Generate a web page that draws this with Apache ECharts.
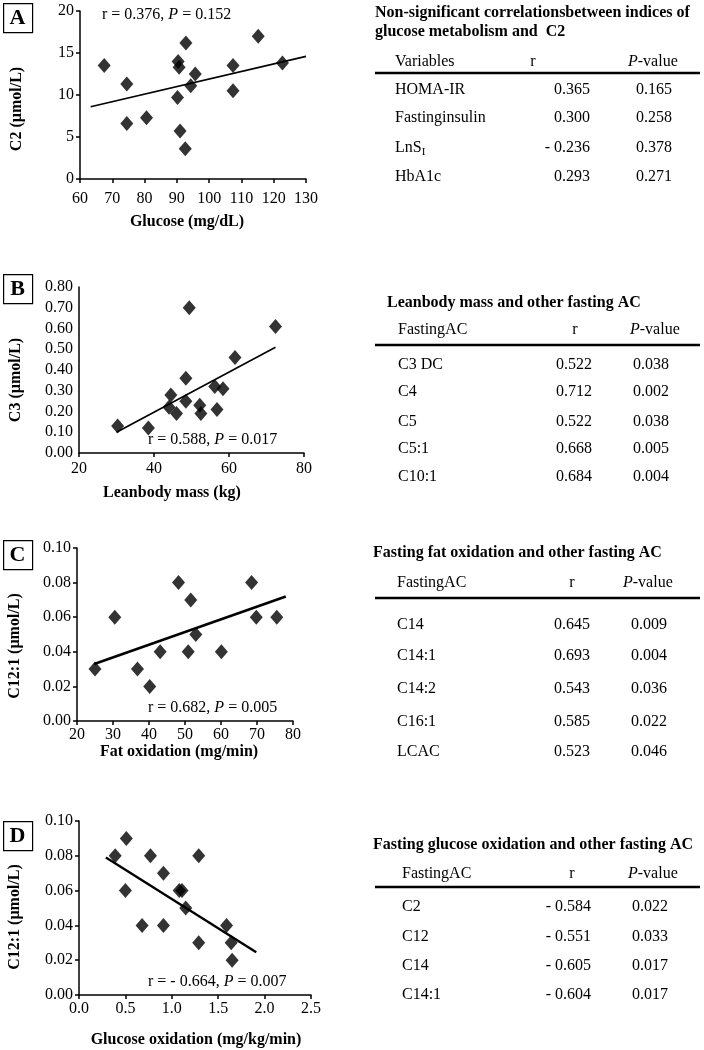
<!DOCTYPE html>
<html><head><meta charset="utf-8">
<script src="https://cdn.jsdelivr.net/npm/echarts@6/dist/echarts.min.js"></script>
<style>html,body{margin:0;padding:0;background:#fff}#c{width:704px;height:1050px}</style>
</head><body><div id="c"></div>
<script>
// ---- Panel A: Glucose vs C2 ----
const glucoseA = [67.5,74.5,74.5,80.6,90.4,90.7,90.2,91.0,92.6,92.8,95.7,94.3,107.4,107.4,115.2,122.7];
const c2A      = [13.5,11.3,6.6,7.3,14.0,13.3,9.7,5.7,3.6,16.2,12.5,11.1,13.5,10.5,17.0,13.8];
const fitA     = [[63.3,8.6],[130,14.6]];
// ---- Panel B: Lean body mass vs C3 ----
const leanB = [30.3,38.5,44.0,44.5,46.0,48.5,48.5,49.4,52.2,52.5,56.2,56.8,58.4,61.6,72.4];
const c3B   = [0.13,0.12,0.22,0.28,0.19,0.36,0.25,0.70,0.23,0.19,0.32,0.21,0.31,0.46,0.61];
const fitB  = [[30.0,0.10],[72.4,0.51]];
// ---- Panel C: Fat oxidation vs C12:1 ----
const fatC  = [25.0,30.5,36.8,40.2,43.1,48.2,50.9,51.6,53.0,60.1,68.5,69.8,75.5];
const c121C = [0.03,0.06,0.03,0.02,0.04,0.08,0.04,0.07,0.05,0.04,0.08,0.06,0.06];
const fitC  = [[24.8,0.033],[78.0,0.072]];
// ---- Panel D: Glucose oxidation vs C12:1 ----
const gluoxD = [0.39,0.51,0.50,0.68,0.77,0.91,0.91,1.08,1.11,1.15,1.29,1.29,1.59,1.64,1.65];
const c121D  = [0.08,0.09,0.06,0.04,0.08,0.07,0.04,0.06,0.06,0.05,0.08,0.03,0.04,0.03,0.02];
const fitD   = [[0.29,0.079],[1.91,0.0246]];

// axis tick settings
const xTicksA = {min:60,max:130,interval:10};
const yTicksA = {min:0,max:20,interval:5};
const xTicksB = {min:20,max:80,interval:20};
const yTicksB = {min:0,max:0.8,interval:0.1};
const xTicksC = {min:20,max:80,interval:10};
const yTicksC = {min:0,max:0.1,interval:0.02};
const xTicksD = {min:0,max:2.5,interval:0.5};
const yTicksD = {min:0,max:0.1,interval:0.02};

// labels
const panelLetters = ['A','B','C','D'];
const xNames = ['Glucose (mg/dL)','Leanbody mass (kg)','Fat oxidation (mg/min)','Glucose oxidation (mg/kg/min)'];
const yNames = ['C2 (\u00b5mol/L)','C3 (\u00b5mol/L)','C12:1 (\u00b5mol/L)','C12:1 (\u00b5mol/L)'];
const statR = ['0.376','0.588','0.682','- 0.664'];
const statP = ['0.152','0.017','0.005','0.007'];

// tables
const tableTitles = [
  ['Non-significant correlationsbetween indices of','glucose metabolism and  C2'],
  ['Leanbody mass and other fasting AC'],
  ['Fasting fat oxidation and other fasting AC'],
  ['Fasting glucose oxidation and other fasting AC']
];
const tableFirstHeader = ['Variables','FastingAC','FastingAC','FastingAC'];
const tableNames = [
  ['HOMA-IR','Fastinginsulin','LnS_I','HbA1c'],
  ['C3 DC','C4','C5','C5:1','C10:1'],
  ['C14','C14:1','C14:2','C16:1','LCAC'],
  ['C2','C12','C14','C14:1']
];
const tableR = [
  ['0.365','0.300','- 0.236','0.293'],
  ['0.522','0.712','0.522','0.668','0.684'],
  ['0.645','0.693','0.543','0.585','0.523'],
  ['- 0.584','- 0.551','- 0.605','- 0.604']
];
const tableP = [
  ['0.165','0.258','0.378','0.271'],
  ['0.038','0.002','0.038','0.005','0.004'],
  ['0.009','0.004','0.036','0.022','0.046'],
  ['0.022','0.033','0.017','0.017']
];

const FONT = '"Liberation Serif","DejaVu Serif",serif';
const chart = echarts.init(document.getElementById('c'), null, {renderer:'canvas'});

// layout
const grids = [
  {left:80, top:11, width:226, height:168},
  {left:79, top:287, width:225, height:166},
  {left:77, top:548, width:216, height:173},
  {left:79, top:821, width:232, height:174}
];
const xT = [xTicksA,xTicksB,xTicksC,xTicksD];
const yT = [yTicksA,yTicksB,yTicksC,yTicksD];
const xFmt = [v=>String(v), v=>String(v), v=>String(v), v=>v.toFixed(1)];
const yFmt = [v=>String(v), v=>v.toFixed(2), v=>v.toFixed(2), v=>v.toFixed(2)];
const xMargin = [12,8,6,6];
const yTickShow = [true,false,true,true];

const xAxes = grids.map((g,i)=>({
  gridIndex:i, type:'value', min:xT[i].min, max:xT[i].max, interval:xT[i].interval,
  axisLine:{show:true,onZero:false,lineStyle:{color:'#000',width:1.5}},
  axisTick:{show:true,length:4,lineStyle:{color:'#000',width:1.5}},
  splitLine:{show:false},
  axisLabel:{color:'#000',fontFamily:FONT,fontSize:16,margin:xMargin[i],formatter:xFmt[i],showMaxLabel:true}
}));
const yAxes = grids.map((g,i)=>({
  gridIndex:i, type:'value', min:yT[i].min, max:yT[i].max, interval:yT[i].interval,
  axisLine:{show:true,onZero:false,lineStyle:{color:'#000',width:1.5}},
  axisTick:{show:yTickShow[i],length:4,lineStyle:{color:'#000',width:1.5}},
  splitLine:{show:false},
  axisLabel:{color:'#000',fontFamily:FONT,fontSize:16,margin:6,formatter:yFmt[i]}
}));

const scatterData = [
  glucoseA.map((x,k)=>[x,c2A[k]]),
  leanB.map((x,k)=>[x,c3B[k]]),
  fatC.map((x,k)=>[x,c121C[k]]),
  gluoxD.map((x,k)=>[x,c121D[k]])
];
const fits = [fitA,fitB,fitC,fitD];
const fitWidth = [1.6,1.6,2.6,2.4];

const series = [];
for (let i=0;i<4;i++){
  series.push({type:'line',xAxisIndex:i,yAxisIndex:i,data:fits[i],showSymbol:false,
    lineStyle:{color:'#000',width:fitWidth[i]},silent:true,z:2});
  series.push({type:'scatter',xAxisIndex:i,yAxisIndex:i,data:scatterData[i],symbol:'diamond',
    symbolSize:[13,15],itemStyle:{color:'#000'},silent:true,z:3});
}

// graphics
const graphic = [];
const boxPos = [[3,3],[3,274],[3,540],[3,821]];
panelLetters.forEach((L,i)=>{
  graphic.push({type:'rect',left:boxPos[i][0],top:boxPos[i][1],shape:{width:29,height:29},
    style:{fill:'#fff',stroke:'#000',lineWidth:1.2}});
  graphic.push({type:'text',x:boxPos[i][0]+14.5,y:boxPos[i][1]+15,
    style:{text:L,font:'bold 22px '+FONT,fill:'#000',textAlign:'center',textVerticalAlign:'middle'}});
});
const xNamePos = [[187,222],[172,493],[179,752],[196,1040]];
const yNamePos = [[17,109],[16,380],[15,646],[15,917]];
for (let i=0;i<4;i++){
  graphic.push({type:'text',x:xNamePos[i][0],y:xNamePos[i][1],
    style:{text:xNames[i],font:'bold 16px '+FONT,fill:'#000',textAlign:'center',textVerticalAlign:'middle'}});
  graphic.push({type:'text',x:yNamePos[i][0],y:yNamePos[i][1],rotation:Math.PI/2,
    style:{text:yNames[i],font:'bold 16px '+FONT,fill:'#000',textAlign:'center',textVerticalAlign:'middle'}});
}
const statPos = [[102,15],[148,440],[148,708],[148,982]];
for (let i=0;i<4;i++){
  graphic.push({type:'text',x:statPos[i][0],y:statPos[i][1],
    style:{text:'r = '+statR[i]+', {i|P} = '+statP[i],font:'16px '+FONT,fill:'#000',
      textAlign:'left',textVerticalAlign:'middle',
      rich:{i:{fontStyle:'italic',fontFamily:FONT,fontSize:16}}}});
}

// tables
const tLayout = [
  {titleX:375,titleY:[13,32],headY:62,ruleY:73,rowsY:[90,118,148,177],labX:395,rX:590,pX:636,pHX:628,rHX:533},
  {titleX:387,titleY:[303],headY:330,ruleY:345,rowsY:[365,392,422,449,477],labX:398,rX:592,pX:633,pHX:630,rHX:575},
  {titleX:373,titleY:[553],headY:583,ruleY:598,rowsY:[625,656,689,722,752],labX:397,rX:590,pX:631,pHX:623,rHX:572},
  {titleX:373,titleY:[845],headY:874,ruleY:887,rowsY:[907,937,966,995],labX:402,rX:591,pX:632,pHX:628,rHX:572}
];
const TF = '16px '+FONT;
tLayout.forEach((t,i)=>{
  tableTitles[i].forEach((line,j)=>{
    graphic.push({type:'text',x:t.titleX,y:t.titleY[j],
      style:{text:line,font:'bold 16px '+FONT,fill:'#000',textAlign:'left',textVerticalAlign:'middle'}});
  });
  graphic.push({type:'text',x:t.labX,y:t.headY,style:{text:tableFirstHeader[i],font:TF,fill:'#000',textVerticalAlign:'middle'}});
  graphic.push({type:'text',x:t.rHX,y:t.headY,style:{text:'r',font:TF,fill:'#000',textAlign:'center',textVerticalAlign:'middle'}});
  graphic.push({type:'text',x:t.pHX,y:t.headY,style:{text:'{i|P}-value',font:TF,fill:'#000',textVerticalAlign:'middle',
    rich:{i:{fontStyle:'italic',fontFamily:FONT,fontSize:16}}}});
  graphic.push({type:'line',shape:{x1:375,y1:t.ruleY,x2:700,y2:t.ruleY},style:{stroke:'#000',lineWidth:2.5}});
  tableNames[i].forEach((nm,k)=>{
    let txt = nm, rich = undefined;
    if (nm.indexOf('_')>=0){
      const parts = nm.split('_');
      txt = '{n|'+parts[0]+'}{s|'+parts[1]+'}';
      rich = {n:{fontFamily:FONT,fontSize:16},s:{fontFamily:FONT,fontSize:11,padding:[8,0,0,0]}};
    }
    graphic.push({type:'text',x:t.labX,y:t.rowsY[k],style:{text:txt,font:TF,fill:'#000',textVerticalAlign:'middle',rich:rich}});
    graphic.push({type:'text',x:t.rX,y:t.rowsY[k],style:{text:tableR[i][k],font:TF,fill:'#000',textAlign:'right',textVerticalAlign:'middle'}});
    graphic.push({type:'text',x:t.pX,y:t.rowsY[k],style:{text:tableP[i][k],font:TF,fill:'#000',textAlign:'left',textVerticalAlign:'middle'}});
  });
});

chart.setOption({
  animation:false,
  backgroundColor:'#fff',
  grid:grids,
  xAxis:xAxes,
  yAxis:yAxes,
  series:series,
  graphic:graphic
});
</script>
</body></html>
